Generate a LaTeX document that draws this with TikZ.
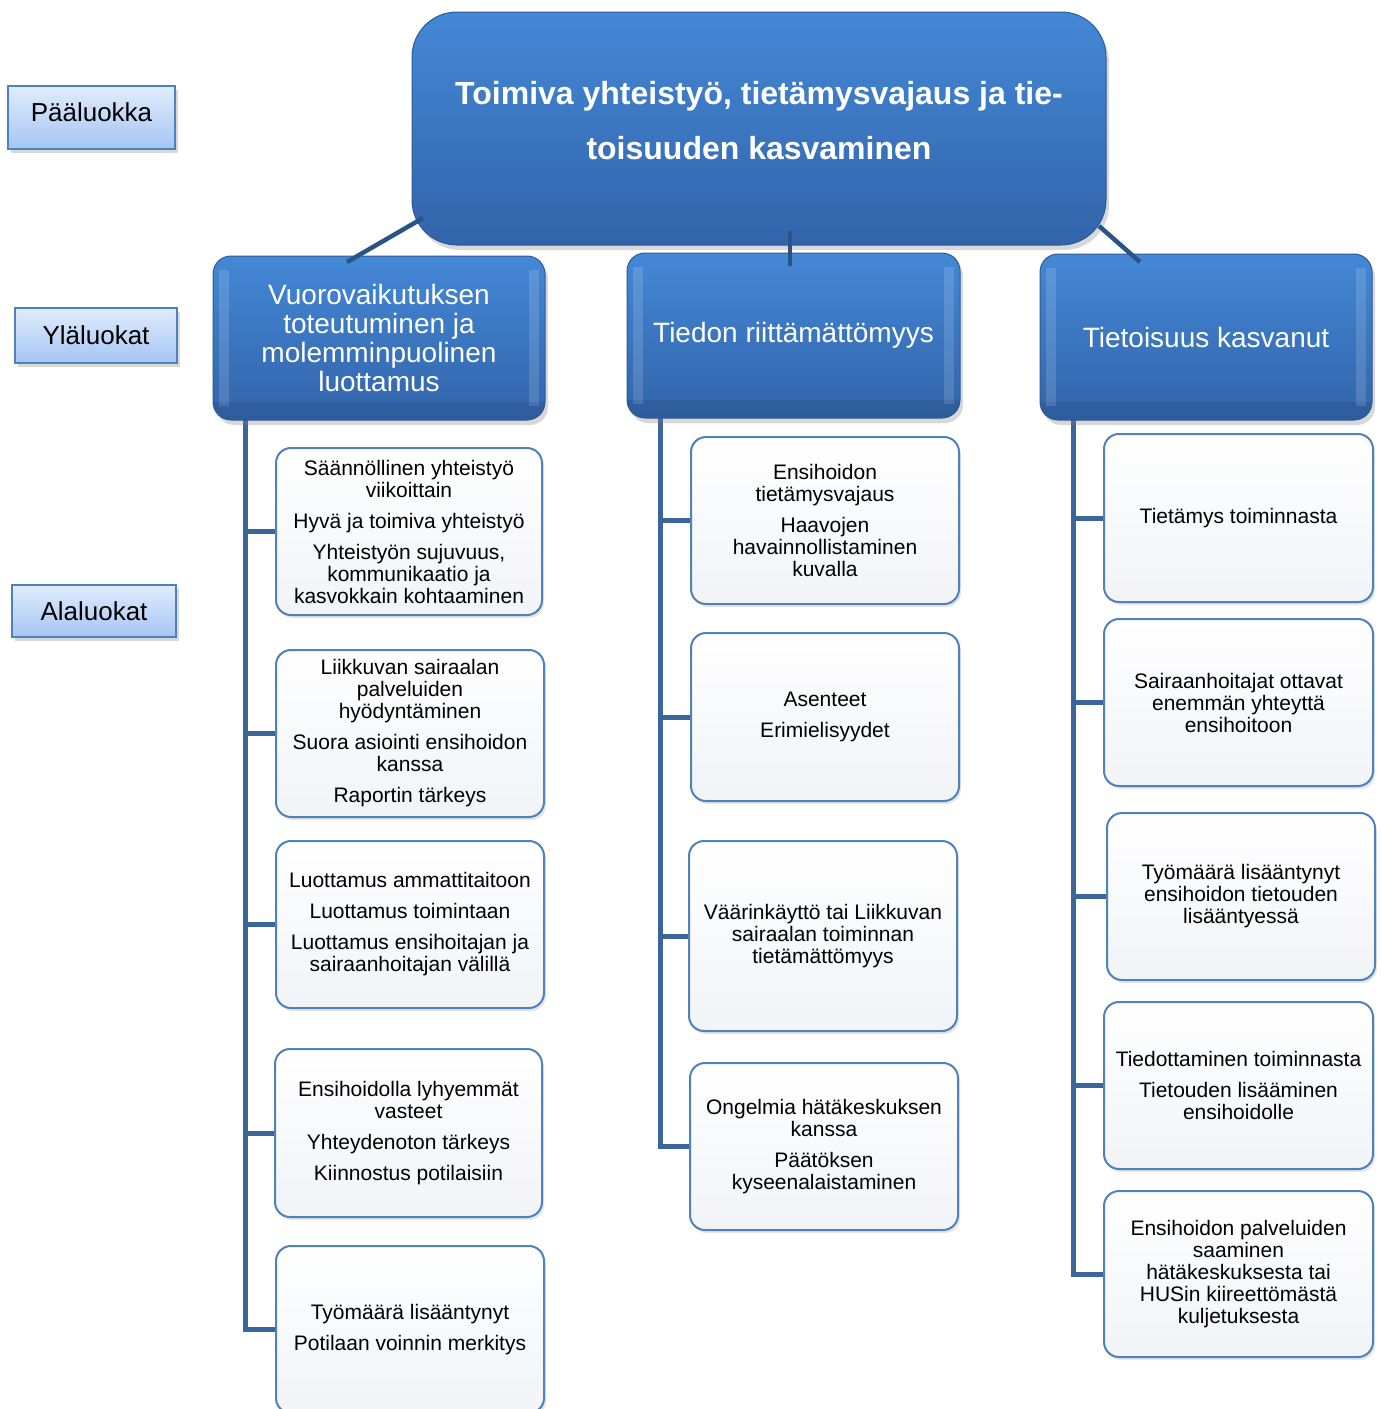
\documentclass[tikz,border=0pt]{standalone}
\usepackage{fontspec}
\setmainfont{Liberation Sans}
\usetikzlibrary{shadows}
\definecolor{topA}{RGB}{68,136,214}
\definecolor{topB}{RGB}{50,100,170}
\definecolor{topEdge}{RGB}{45,90,150}
\definecolor{edge}{RGB}{79,129,189}
\definecolor{trunkcol}{RGB}{58,102,156}
\definecolor{conncol}{RGB}{42,84,136}
\definecolor{legA}{RGB}{224,236,252}
\definecolor{legB}{RGB}{164,197,244}
\definecolor{subB}{RGB}{241,243,247}
\begin{document}
\begin{tikzpicture}[x=1pt,y=-1pt,
  mainbox/.style={rounded corners=45pt, top color=topA, bottom color=topB,
    draw=topEdge, line width=1pt, inner sep=0pt,
    drop shadow={shadow xshift=3pt, shadow yshift=-5pt, opacity=0.3}},
  catbox/.style={rounded corners=18pt, top color=topA, bottom color=topB,
    draw=topEdge, line width=1pt, inner sep=0pt, text=white, align=center,
    font=\fontsize{28}{29}\selectfont,
    drop shadow={shadow xshift=3pt, shadow yshift=-5pt, opacity=0.3},
    path picture={
      \fill[white,opacity=0.14,sharp corners] ([xshift=6pt,yshift=-14pt]path picture bounding box.north west) rectangle ([xshift=16pt,yshift=14pt]path picture bounding box.south west);
      \fill[white,opacity=0.14,sharp corners] ([xshift=-16pt,yshift=-14pt]path picture bounding box.north east) rectangle ([xshift=-6pt,yshift=14pt]path picture bounding box.south east);
      \fill[black,opacity=0.08,sharp corners] ([yshift=18pt]path picture bounding box.south west) rectangle (path picture bounding box.south east);
    }},
  subbox/.style={rounded corners=15pt, top color=white, bottom color=subB,
    draw=edge, line width=2pt, inner sep=0pt, align=center,
    font=\fontsize{21}{22}\selectfont,
    drop shadow={shadow xshift=2pt, shadow yshift=-3pt, opacity=0.2}},
  legbox/.style={top color=legA, bottom color=legB, draw=edge, line width=1.5pt,
    inner sep=0pt, font=\fontsize{26}{28}\selectfont,
    drop shadow={shadow xshift=3pt, shadow yshift=-4pt, opacity=0.3}},
  toptext/.style={text=white, align=center, font=\bfseries\fontsize{32}{55}\selectfont},
  trunk/.style={draw=trunkcol, line width=5pt},
  conn/.style={draw=conncol, line width=4.5pt}
]
\clip (0,0) rectangle (1381,1409);
\fill[white] (0,0) rectangle (1381,1409);

% legend
\node[legbox, minimum width=167pt, minimum height=63pt, text depth=10pt] (l1) at (91.5,117.5) {Pääluokka};
\node[legbox, minimum width=162pt, minimum height=55pt] (l2) at (96,335.5) {Yläluokat};
\node[legbox, minimum width=164pt, minimum height=52pt] (l3) at (94,611) {Alaluokat};

% main box
\node[mainbox, minimum width=694pt, minimum height=233pt] (top) at (759,128.5) {};
\node[toptext] (tt) at (759,120.5) {Toimiva yhteistyö, tietämysvajaus ja tie-\\toisuuden kasvaminen};

% trunks
\coordinate (t1) at (245,419);
\coordinate (t2) at (660,416);
\coordinate (t3) at (1073,419);

% sub boxes column 1
\node[subbox, minimum width=266pt, minimum height=167pt] (s11) at (409,531.5)
  {Säännöllinen yhteistyö\\viikoittain\\[9pt]Hyvä ja toimiva yhteistyö\\[9pt]Yhteistyön sujuvuus,\\kommunikaatio ja\\kasvokkain kohtaaminen};
\node[subbox, minimum width=268pt, minimum height=167pt] (s12) at (410,733.5)
  {Liikkuvan sairaalan\\palveluiden\\hyödyntäminen\\[9pt]Suora asiointi ensihoidon\\kanssa\\[9pt]Raportin tärkeys};
\node[subbox, minimum width=268pt, minimum height=167pt] (s13) at (410,924.5)
  {Luottamus ammattitaitoon\\[9pt]Luottamus toimintaan\\[9pt]Luottamus ensihoitajan ja\\sairaanhoitajan välillä};
\node[subbox, minimum width=267pt, minimum height=168pt] (s14) at (408.5,1133)
  {Ensihoidolla lyhyemmät\\vasteet\\[9pt]Yhteydenoton tärkeys\\[9pt]Kiinnostus potilaisiin};
\node[subbox, minimum width=268pt, minimum height=167pt] (s15) at (410,1329.5)
  {Työmäärä lisääntynyt\\[9pt]Potilaan voinnin merkitys};

% sub boxes column 2
\node[subbox, minimum width=268pt, minimum height=167pt] (s21) at (825,520.5)
  {Ensihoidon\\tietämysvajaus\\[9pt]Haavojen\\havainnollistaminen\\kuvalla};
\node[subbox, minimum width=268pt, minimum height=168pt] (s22) at (825,717)
  {Asenteet\\[9pt]Erimielisyydet};
\node[subbox, minimum width=268pt, minimum height=190pt] (s23) at (823,936)
  {Väärinkäyttö tai Liikkuvan\\sairaalan toiminnan\\tietämättömyys};
\node[subbox, minimum width=268pt, minimum height=167pt] (s24) at (824,1146.5)
  {Ongelmia hätäkeskuksen\\kanssa\\[9pt]Päätöksen\\kyseenalaistaminen};

% sub boxes column 3
\node[subbox, minimum width=269pt, minimum height=168pt] (s31) at (1238.5,518)
  {Tietämys toiminnasta};
\node[subbox, minimum width=269pt, minimum height=167pt] (s32) at (1238.5,702.5)
  {Sairaanhoitajat ottavat\\enemmän yhteyttä\\ensihoitoon};
\node[subbox, minimum width=268pt, minimum height=167pt] (s33) at (1241,896.5)
  {Työmäärä lisääntynyt\\ensihoidon tietouden\\lisääntyessä};
\node[subbox, minimum width=269pt, minimum height=167pt] (s34) at (1238.5,1085.5)
  {Tiedottaminen toiminnasta\\[9pt]Tietouden lisääminen\\ensihoidolle};
\node[subbox, minimum width=269pt, minimum height=166pt] (s35) at (1238.5,1274)
  {Ensihoidon palveluiden\\saaminen\\hätäkeskuksesta tai\\HUSin kiireettömästä\\kuljetuksesta};

% trunk lines
\foreach \s in {s11,s12,s13,s14,s15} \draw[trunk] (t1) |- (\s.west);
\foreach \s in {s21,s22,s23,s24} \draw[trunk] (t2) |- (\s.west);
\foreach \s in {s31,s32,s33,s34,s35} \draw[trunk] (t3) |- (\s.west);

% category boxes
\node[catbox, minimum width=332pt, minimum height=164pt] (c1) at (379,338)
  {Vuorovaikutuksen\\toteutuminen ja\\molemminpuolinen\\luottamus};
\node[catbox, minimum width=333pt, minimum height=165pt] (c2) at (793.5,335.5)
  {Tiedon riittämättömyys};
\node[catbox, minimum width=332pt, minimum height=166pt] (c3) at (1206,337)
  {Tietoisuus kasvanut};

% connectors from main box
\coordinate (a1) at (423,218);
\coordinate (b1) at (347,262);
\coordinate (a2) at (790,231);
\coordinate (b2) at (790,266);
\coordinate (a3) at (1099,226);
\coordinate (b3) at (1140,262);
\draw[conn] (a1) -- (b1);
\draw[conn] (a2) -- (b2);
\draw[conn] (a3) -- (b3);
\end{tikzpicture}
\end{document}
